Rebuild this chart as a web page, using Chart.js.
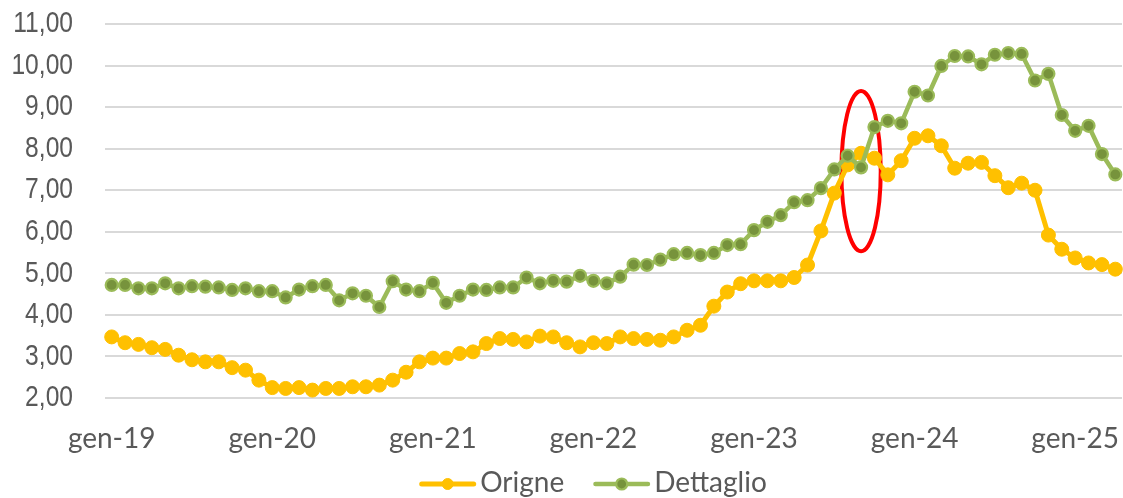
<!DOCTYPE html>
<html>
<head>
<meta charset="utf-8">
<script src="https://cdn.jsdelivr.net/npm/chart.js@4.4.1/dist/chart.umd.min.js"></script>
<style>
html,body{margin:0;padding:0;background:#ffffff;overflow:hidden;}
#wrap{width:1123px;height:498px;position:relative;}
canvas{display:block;}
</style>
</head>
<body>
<div id="wrap"><canvas id="c" width="1123" height="498"></canvas></div>
<script>
// ---- DATA ----
const monthNames = ['gen','feb','mar','apr','mag','giu','lug','ago','set','ott','nov','dic'];
const yearLabels = ['19','20','21','22','23','24','25'];
const monthCount = 76; // gen-19 .. apr-25
const categories = [];
for (const yy of yearLabels) for (const m of monthNames) if (categories.length < monthCount) categories.push(m + '-' + yy);

const tickLabels = ['gen-19','gen-20','gen-21','gen-22','gen-23','gen-24','gen-25'];

const origine = [
  3.47,3.33,3.29,3.21,3.17,3.03,2.92,2.87,2.87,2.73,2.67,2.43,
  2.25,2.23,2.25,2.19,2.23,2.23,2.27,2.27,2.31,2.43,2.62,2.87,
  2.96,2.96,3.07,3.11,3.31,3.43,3.41,3.35,3.49,3.47,3.33,3.23,
  3.33,3.31,3.47,3.43,3.41,3.39,3.47,3.63,3.75,4.21,4.55,4.75,
  4.82,4.82,4.82,4.90,5.20,6.02,6.93,7.61,7.89,7.77,7.37,7.71,
  8.25,8.31,8.07,7.53,7.65,7.67,7.35,7.06,7.17,7.00,5.92,5.58,
  5.37,5.25,5.21,5.10
];
const dettaglio = [
  4.72,4.72,4.64,4.64,4.76,4.64,4.69,4.68,4.66,4.60,4.64,4.57,
  4.57,4.42,4.61,4.69,4.72,4.35,4.52,4.46,4.19,4.81,4.61,4.57,
  4.77,4.29,4.46,4.61,4.60,4.66,4.66,4.90,4.76,4.82,4.80,4.94,
  4.82,4.76,4.92,5.21,5.20,5.33,5.46,5.49,5.44,5.49,5.68,5.70,
  6.04,6.24,6.40,6.71,6.76,7.05,7.50,7.83,7.55,8.52,8.67,8.61,
  9.37,9.28,9.99,10.23,10.22,10.03,10.26,10.30,10.28,9.64,9.80,8.81,
  8.43,8.55,7.87,7.38
];
const seriesNames = ['Origne','Dettaglio'];
const yMin = 2, yMax = 11, yStep = 1;
// highlighted region (category index / value units)
const highlight = { index: 56, value: 7.46, halfIndex: 1.47, halfValue: 1.93 };

const formatValue = (v) => v.toFixed(2).replace('.', ',');

// ---- PLUGINS ----
const ellipsePlugin = {
  id: 'highlightEllipse',
  beforeDatasetsDraw(chart, args, opts) {
    const xs = chart.scales.x, ys = chart.scales.y, ctx = chart.ctx;
    const cx = xs.getPixelForValue(highlight.index);
    const cy = ys.getPixelForValue(highlight.value);
    const rx = Math.abs(xs.getPixelForValue(highlight.index + highlight.halfIndex) - cx);
    const ry = Math.abs(ys.getPixelForValue(highlight.value + highlight.halfValue) - cy);
    ctx.save();
    ctx.beginPath();
    ctx.ellipse(cx, cy, rx, ry, 0, 0, Math.PI * 2);
    ctx.strokeStyle = opts.color;
    ctx.lineWidth = opts.width;
    ctx.stroke();
    ctx.restore();
  }
};

// narrow (condensed) y-axis labels, placed from the y scale's own ticks
const narrowYLabels = {
  id: 'narrowYLabels',
  afterDraw(chart, args, opts) {
    const ys = chart.scales.y, ctx = chart.ctx;
    ctx.save();
    ctx.font = opts.font;
    ctx.fillStyle = opts.color;
    ctx.textAlign = 'right';
    ctx.textBaseline = 'middle';
    const xRight = chart.chartArea.left - opts.padding;
    ys.ticks.forEach(t => {
      const y = ys.getPixelForValue(t.value);
      ctx.save();
      ctx.translate(xRight, y);
      ctx.scale(opts.stretch, 1);
      ctx.fillText(formatValue(t.value), 0, 0);
      ctx.restore();
    });
    ctx.restore();
  }
};

const legendPlugin = {
  id: 'bottomLegend',
  afterDraw(chart, args, opts) {
    const ctx = chart.ctx;
    ctx.save();
    ctx.font = opts.font;
    const items = opts.order.map(i => chart.data.datasets[i]);
    const widths = items.map(ds => opts.lineLen + opts.textGap + ctx.measureText(ds.label).width);
    const total = widths.reduce((a, b) => a + b, 0) + opts.itemGap * (items.length - 1);
    let x = opts.centerX - total / 2;
    items.forEach((ds, k) => {
      const y = opts.lineY;
      ctx.beginPath();
      ctx.moveTo(x + ds.borderWidth / 2, y);
      ctx.lineTo(x + opts.lineLen - ds.borderWidth / 2, y);
      ctx.strokeStyle = ds.borderColor;
      ctx.lineWidth = ds.borderWidth;
      ctx.lineCap = 'round';
      ctx.stroke();
      ctx.beginPath();
      ctx.arc(x + opts.lineLen / 2, y, opts.markerRadius, 0, Math.PI * 2);
      ctx.fillStyle = ds.pointBackgroundColor;
      ctx.fill();
      ctx.lineWidth = ds.pointBorderWidth;
      ctx.strokeStyle = ds.pointBorderColor;
      ctx.stroke();
      ctx.fillStyle = opts.color;
      ctx.textBaseline = 'alphabetic';
      ctx.textAlign = 'left';
      ctx.fillText(ds.label, x + opts.lineLen + opts.textGap, opts.textY);
      x += widths[k] + opts.itemGap;
    });
    ctx.restore();
  }
};

// ---- CHART ----
const textColor = '#595959';
new Chart(document.getElementById('c'), {
  type: 'line',
  data: {
    labels: categories,
    datasets: [
      {
        label: seriesNames[0],
        data: origine,
        borderColor: '#FFC000',
        backgroundColor: '#FFC000',
        borderWidth: 5,
        pointRadius: 7,
        pointHoverRadius: 7,
        pointBorderWidth: 1,
        pointBackgroundColor: '#FFC000',
        pointBorderColor: '#FFC000',
        borderJoinStyle: 'round',
        borderCapStyle: 'round',
        tension: 0,
        order: 1
      },
      {
        label: seriesNames[1],
        data: dettaglio,
        borderColor: '#9BBB59',
        backgroundColor: '#9BBB59',
        borderWidth: 4.5,
        pointRadius: 6,
        pointHoverRadius: 6,
        pointBorderWidth: 2.2,
        pointBackgroundColor: '#77933C',
        pointBorderColor: '#9BBB59',
        borderJoinStyle: 'round',
        borderCapStyle: 'round',
        tension: 0,
        order: 0
      }
    ]
  },
  options: {
    responsive: false,
    devicePixelRatio: 1,
    animation: false,
    layout: { autoPadding: false, padding: { left: 12, right: 1, top: 24, bottom: 42 } },
    plugins: {
      legend: { display: false },
      tooltip: { enabled: false },
      highlightEllipse: { color: '#FF0000', width: 4 },
      narrowYLabels: { font: '30px "Liberation Sans", Arial, sans-serif', color: textColor, padding: 32, stretch: 0.82 },
      bottomLegend: {
        order: [0, 1],
        font: '28px Lato',
        color: textColor,
        centerX: 593,
        lineY: 484,
        textY: 492,
        lineLen: 57,
        textGap: 4,
        itemGap: 29,
        markerRadius: 5.5
      }
    },
    scales: {
      x: {
        type: 'category',
        offset: true,
        grid: { display: false, drawTicks: false },
        border: { display: false },
        ticks: {
          autoSkip: false,
          maxRotation: 0,
          minRotation: 0,
          padding: 0,
          color: textColor,
          font: { family: 'Lato', size: 28, lineHeight: '81.6px' },
          callback: function (value, index) {
            const lab = categories[index];
            return tickLabels.includes(lab) ? lab : '';
          }
        },
        afterFit: (scale) => { scale.height = 58; scale.paddingLeft = 0; scale.paddingRight = 0; }
      },
      y: {
        min: yMin,
        max: yMax,
        grid: { color: '#D9D9D9', lineWidth: 2, drawTicks: false },
        border: { display: false },
        ticks: {
          display: false,
          autoSkip: false,
          stepSize: yStep,
          callback: (v) => formatValue(v)
        },
        afterFit: (scale) => { scale.width = 93; }
      }
    }
  },
  plugins: [ellipsePlugin, narrowYLabels, legendPlugin]
});
</script>
</body>
</html>
